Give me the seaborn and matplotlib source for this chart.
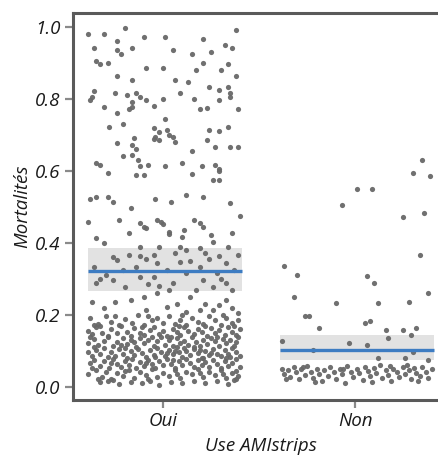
import numpy as np
import pandas as pd
import matplotlib
matplotlib.use("Agg")
import matplotlib.pyplot as plt
import seaborn as sns

categories = ["Oui", "Non"]
x_label = "Use AMIstrips"
y_label = "Mortalités"
y_ticks = [0.0, 0.2, 0.4, 0.6, 0.8, 1.0]

# group means and interval band
mean_values = [0.32, 0.103]
band_low = [0.267, 0.074]
band_high = [0.384, 0.144]

# Oui: (jitter offset, mortality)
oui_points = [
    (-0.39,0.98),(-0.31,0.98),(-0.20,0.995),(-0.10,0.97),(0.01,0.97),(0.21,0.965),(0.38,0.99),
    (-0.36,0.94),(-0.24,0.96),(-0.24,0.935),(-0.16,0.94),(-0.22,0.925),(0.05,0.935),(0.15,0.925),
    (0.25,0.93),(0.32,0.95),(0.36,0.94),(-0.35,0.905),(-0.33,0.895),(-0.29,0.90),(-0.09,0.885),
    (0.0,0.885),(0.17,0.88),(0.21,0.90),(0.30,0.88),(0.34,0.895),(0.38,0.863),(-0.24,0.863),
    (-0.16,0.852),(0.06,0.852),(0.13,0.847),(0.24,0.833),(0.29,0.824),(0.34,0.833),(0.35,0.815),
    (-0.38,0.796),(-0.37,0.805),(-0.36,0.822),(-0.25,0.815),(-0.19,0.81),(-0.16,0.79),(-0.14,0.815),
    (-0.12,0.805),(-0.09,0.796),(-0.05,0.78),(0.0,0.80),(0.09,0.817),(0.16,0.80),(0.19,0.77),
    (0.23,0.773),(0.29,0.796),(0.35,0.805),(0.39,0.77),(-0.31,0.776),(-0.24,0.76),(-0.16,0.778),
    (-0.18,0.77),(-0.28,0.72),(-0.21,0.73),(-0.05,0.718),(0.01,0.743),(-0.02,0.708),(0.02,0.713),
    (0.03,0.70),(0.06,0.68),(0.24,0.713),(0.29,0.71),(0.34,0.722),(0.39,0.667),(0.35,0.667),
    (-0.15,0.69),(-0.24,0.678),(-0.16,0.671),(-0.14,0.66),(-0.04,0.693),(-0.02,0.685),(-0.05,0.687),
    (0.05,0.694),(0.23,0.685),(0.27,0.667),(0.15,0.656),(-0.35,0.622),(-0.33,0.616),(-0.29,0.593),
    (-0.21,0.64),(-0.16,0.643),(-0.13,0.63),(-0.12,0.613),(-0.08,0.616),(0.01,0.613),(0.10,0.62),
    (0.20,0.613),(0.27,0.615),(0.29,0.606),(0.29,0.60),(0.15,0.59),(-0.14,0.588),(-0.10,0.588),
    (0.26,0.574),(0.29,0.574),(-0.38,0.52),(-0.35,0.528),(-0.29,0.526),(-0.26,0.514),(-0.17,0.495),
    (-0.04,0.52),(0.04,0.514),(0.12,0.532),(0.21,0.528),(0.40,0.474),(0.35,0.51),(-0.39,0.458),
    (-0.23,0.463),(-0.18,0.428),(-0.10,0.444),(-0.03,0.463),(-0.01,0.458),(0.0,0.452),(0.03,0.43),
    (0.03,0.424),(0.11,0.435),(0.10,0.417),(0.16,0.463),(0.19,0.454),(0.21,0.444),(0.25,0.42),
    (0.26,0.403),(0.36,0.426),(-0.12,0.454),(-0.09,0.44),(-0.35,0.412),(-0.31,0.398),(-0.26,0.361),
    (-0.12,0.389),(-0.12,0.363),(-0.05,0.366),(-0.02,0.389),(0.09,0.389),(0.12,0.38),(0.19,0.384),
    (0.22,0.37),(0.29,0.363),(0.34,0.389),(0.39,0.366),
    (-0.36,0.333),(-0.33,0.30),(-0.35,0.287),(-0.26,0.296),(-0.20,0.278),(-0.14,0.333),(-0.12,0.306),
    (-0.09,0.356),(-0.03,0.343),(0.02,0.324),(0.05,0.287),(0.12,0.315),(0.19,0.333),(0.21,0.296),
    (0.28,0.315),(0.33,0.287),(0.36,0.269),(-0.05,0.306),(0.03,0.269),(0.17,0.269),(0.26,0.278),
    (-0.21,0.324),(-0.24,0.352),(0.09,0.347),(0.33,0.343),(0.37,0.324),(-0.30,0.31),(-0.08,0.285),
    (0.14,0.35),(0.30,0.30),(-0.18,0.365),(0.06,0.37),(0.24,0.355),(-0.02,0.28),
    (-0.37,0.236),(-0.25,0.236),(-0.17,0.24),(-0.10,0.25),(-0.03,0.26),(0.02,0.222),(0.07,0.23),
    (0.14,0.25),(0.22,0.23),(0.29,0.227),(0.36,0.218),(0.39,0.204),(-0.31,0.218),(-0.09,0.213),
    (0.12,0.208),(0.19,0.213),(0.26,0.213),(0.33,0.24),
    (-0.38,0.19),(-0.34,0.175),(-0.30,0.195),(-0.27,0.18),(-0.23,0.17),(-0.20,0.188),(-0.16,0.176),
    (-0.13,0.198),(-0.10,0.172),(-0.06,0.185),(-0.03,0.19),(0.00,0.178),(0.03,0.196),(0.06,0.174),
    (0.09,0.186),(0.12,0.17),(0.15,0.192),(0.18,0.18),(0.21,0.173),(0.24,0.196),(0.27,0.184),
    (0.30,0.171),(0.33,0.19),(0.36,0.178),(0.39,0.186),(-0.36,0.172),(-0.25,0.197),(-0.08,0.195),
    (0.10,0.199),(0.31,0.199),
    (-0.39,0.155),(-0.37,0.145),(-0.35,0.165),(-0.32,0.15),(-0.29,0.142),(-0.27,0.16),(-0.24,0.148),
    (-0.22,0.168),(-0.19,0.153),(-0.17,0.141),(-0.15,0.162),(-0.12,0.15),(-0.10,0.144),(-0.07,0.158),
    (-0.05,0.166),(-0.02,0.147),(0.00,0.156),(0.02,0.142),(0.05,0.161),(0.07,0.151),(0.09,0.143),
    (0.11,0.165),(0.13,0.155),(0.16,0.146),(0.18,0.16),(0.20,0.152),(0.23,0.141),(0.25,0.163),
    (0.27,0.149),(0.29,0.157),(0.32,0.144),(0.34,0.166),(0.36,0.152),(0.38,0.143),(0.40,0.16),
    (-0.33,0.168),(-0.11,0.167),(0.08,0.168),(0.22,0.168),(0.37,0.169),
    (-0.39,0.12),(-0.36,0.132),(-0.34,0.115),(-0.31,0.127),(-0.29,0.138),(-0.26,0.112),(-0.24,0.125),
    (-0.21,0.135),(-0.19,0.118),(-0.17,0.129),(-0.14,0.111),(-0.12,0.136),(-0.10,0.122),(-0.08,0.131),
    (-0.05,0.114),(-0.03,0.126),(-0.01,0.138),(0.01,0.117),(0.03,0.129),(0.05,0.112),(0.07,0.134),
    (0.09,0.121),(0.11,0.128),(0.13,0.115),(0.15,0.137),(0.17,0.123),(0.19,0.113),(0.21,0.131),
    (0.23,0.119),(0.25,0.135),(0.27,0.126),(0.29,0.112),(0.31,0.133),(0.33,0.121),(0.35,0.129),
    (0.37,0.114),(0.39,0.137),(-0.38,0.139),(-0.22,0.116),(-0.06,0.139),(0.04,0.138),(0.16,0.111),
    (0.28,0.139),(0.38,0.124),(-0.15,0.124),
    (-0.39,0.095),(-0.37,0.084),(-0.35,0.103),(-0.33,0.09),(-0.31,0.108),(-0.29,0.082),(-0.27,0.097),
    (-0.25,0.086),(-0.23,0.105),(-0.21,0.092),(-0.19,0.081),(-0.17,0.099),(-0.15,0.088),(-0.13,0.106),
    (-0.11,0.093),(-0.09,0.083),(-0.07,0.101),(-0.05,0.089),(-0.03,0.107),(-0.01,0.095),(0.01,0.085),
    (0.03,0.102),(0.05,0.091),(0.07,0.109),(0.08,0.096),(0.10,0.083),(0.12,0.1),(0.14,0.088),
    (0.16,0.104),(0.18,0.094),(0.20,0.081),(0.22,0.098),(0.24,0.087),(0.26,0.106),(0.28,0.092),
    (0.30,0.084),(0.32,0.101),(0.34,0.09),(0.36,0.108),(0.38,0.095),(0.40,0.086),(-0.36,0.109),
    (-0.20,0.108),(-0.04,0.082),(0.02,0.093),(0.06,0.098),(0.11,0.107),(0.19,0.102),(0.25,0.094),
    (0.35,0.083),
    (-0.38,0.065),(-0.36,0.075),(-0.33,0.058),(-0.31,0.07),(-0.28,0.052),(-0.26,0.077),(-0.24,0.063),
    (-0.22,0.055),(-0.20,0.072),(-0.18,0.06),(-0.16,0.078),(-0.14,0.053),(-0.12,0.068),(-0.10,0.057),
    (-0.08,0.074),(-0.06,0.062),(-0.04,0.051),(-0.02,0.07),(0.00,0.059),(0.02,0.076),(0.04,0.064),
    (0.06,0.053),(0.08,0.071),(0.10,0.06),(0.12,0.078),(0.14,0.066),(0.16,0.054),(0.18,0.073),
    (0.20,0.061),(0.22,0.069),(0.24,0.056),(0.26,0.075),(0.28,0.063),(0.30,0.052),(0.32,0.072),
    (0.34,0.058),(0.36,0.067),(0.38,0.077),(0.40,0.055),(-0.37,0.052),(-0.27,0.066),(-0.09,0.066),
    (0.05,0.073),(0.21,0.079),(0.33,0.079),
    (-0.39,0.035),(-0.35,0.045),(-0.32,0.028),(-0.30,0.04),(-0.27,0.022),(-0.24,0.038),(-0.21,0.03),
    (-0.18,0.047),(-0.15,0.025),(-0.12,0.041),(-0.09,0.033),(-0.06,0.048),(-0.03,0.026),(0.00,0.039),
    (0.03,0.031),(0.06,0.046),(0.09,0.024),(0.12,0.042),(0.15,0.034),(0.18,0.049),(0.21,0.027),
    (0.24,0.04),(0.27,0.032),(0.30,0.045),(0.33,0.023),(0.36,0.037),(0.39,0.029),(-0.34,0.021),
    (-0.20,0.044),(-0.08,0.021),(0.07,0.036),(0.19,0.038),(0.31,0.034),(0.38,0.044),(0.38,0.02),
    (-0.33,0.012),(-0.29,0.015),(-0.23,0.008),(-0.17,0.014),(-0.11,0.01),(-0.07,0.016),(-0.02,0.005),
    (0.04,0.013),(0.10,0.009),(0.16,0.017),(0.22,0.011),(0.28,0.015),(0.34,0.008),(0.37,0.018),
    (-0.26,0.018),
]

# Non: (jitter offset, mortality)
non_points = [
    (-0.37,0.336),(-0.30,0.31),(-0.32,0.25),(-0.26,0.196),(-0.24,0.196),(-0.19,0.164),(-0.10,0.233),
    (-0.07,0.505),(0.01,0.55),(0.09,0.55),(0.06,0.307),(0.10,0.287),(0.12,0.233),(0.05,0.176),
    (0.08,0.183),(0.16,0.157),(0.17,0.134),(0.25,0.472),(0.30,0.594),(0.35,0.631),(0.39,0.585),
    (0.36,0.483),(0.34,0.366),(0.38,0.261),(0.28,0.236),(0.25,0.157),(0.29,0.144),(0.32,0.162),
    (-0.38,0.128),(-0.03,0.12),(0.06,0.116),(0.12,0.079),(0.26,0.079),(0.38,0.074),(-0.22,0.102),
    (0.30,0.097),
    (-0.38,0.05),(-0.37,0.035),(-0.35,0.045),(-0.34,0.028),(-0.32,0.055),(-0.31,0.04),(-0.29,0.02),
    (-0.28,0.048),(-0.26,0.033),(-0.25,0.058),(-0.23,0.042),(-0.22,0.025),(-0.20,0.05),(-0.19,0.036),
    (-0.17,0.015),(-0.16,0.045),(-0.14,0.03),(-0.13,0.055),(-0.11,0.04),(-0.10,0.022),(-0.08,0.048),
    (-0.07,0.035),(-0.05,0.01),(-0.04,0.058),(-0.02,0.042),(-0.01,0.028),(0.01,0.05),(0.02,0.037),
    (0.04,0.018),(0.05,0.055),(0.07,0.043),(0.08,0.03),(0.10,0.052),(0.11,0.038),(0.13,0.06),
    (0.14,0.025),(0.16,0.045),(0.17,0.032),(0.19,0.015),(0.20,0.05),(0.22,0.04),(0.23,0.028),
    (0.25,0.055),(0.26,0.036),(0.28,0.046),(0.29,0.022),(0.31,0.052),(0.32,0.038),(0.34,0.03),
    (0.35,0.056),(0.37,0.042),(0.38,0.025),(0.40,0.048),(-0.36,0.022),(-0.21,0.012),(-0.06,0.05),
    (0.09,0.012),(0.18,0.058),(0.33,0.015),(0.27,0.06),(-0.27,0.055),
]

rows = []
for gi, pts in enumerate([oui_points, non_points]):
    for off, val in pts:
        rows.append({"group": categories[gi], "pos": gi + off, "value": val})
df = pd.DataFrame(rows)

sns.set_style("white")
plt.rcParams["font.family"] = ["Open Sans", "DejaVu Sans"]

fig = plt.figure(figsize=(4.39, 4.57), dpi=100)
ax = fig.add_axes([73/439, 57/457, 376/439, 387/457])

for gi in range(len(categories)):
    ax.fill_between([gi - 0.39, gi + 0.41], band_low[gi], band_high[gi],
                    color="#d6d6d6", alpha=0.7, linewidth=0, zorder=1)

sns.scatterplot(data=df, x="pos", y="value", color="#686868", s=14,
                linewidth=0, alpha=0.95, ax=ax, legend=False, zorder=2)

for gi in range(len(categories)):
    ax.plot([gi - 0.39, gi + 0.41], [mean_values[gi]] * 2, color="#3d7cc2",
            linewidth=2.4, solid_capstyle="butt", zorder=3)

ax.set_xlim(-0.47, 1.49)
ax.set_ylim(-0.037, 1.038)
ax.set_xticks(range(len(categories)))
ax.set_xticklabels(categories, fontstyle="italic", fontsize=13.5, color="#1a1a1a")
ax.set_yticks(y_ticks)
ax.set_yticklabels([f"{t:.1f}" for t in y_ticks], fontstyle="italic", fontsize=13.5, color="#1a1a1a")
ax.tick_params(axis="both", which="major", length=6, width=1.6, color="#8a8a8a",
               direction="out", left=True, bottom=True, pad=3)
ax.set_xlabel(x_label, fontstyle="italic", fontsize=13.5, color="#1a1a1a", labelpad=5)
ax.set_ylabel(y_label, fontstyle="italic", fontsize=13.5, color="#1a1a1a", labelpad=3)

for name, sp in ax.spines.items():
    sp.set_color("#5a5a5a")
    sp.set_linewidth(2.2)

fig.savefig("out.png", dpi=100)
